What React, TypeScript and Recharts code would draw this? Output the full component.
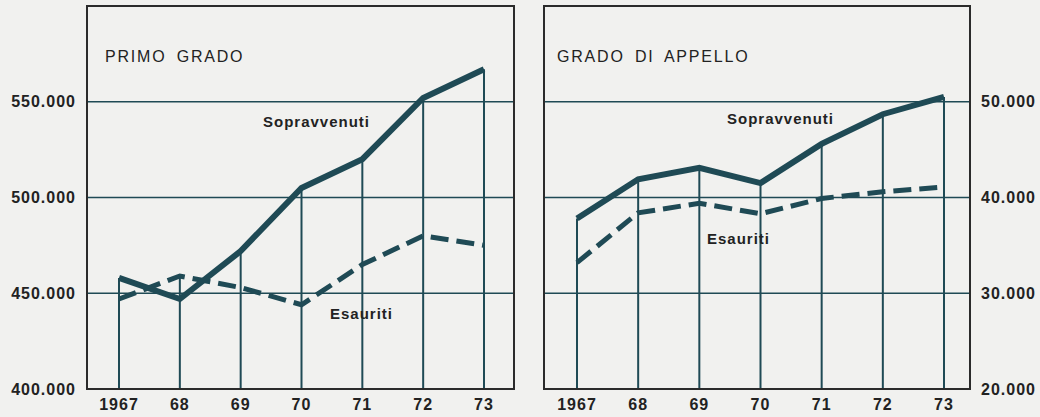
import React from 'react';
import {
  LineChart,
  Line,
  XAxis,
  YAxis,
  CartesianGrid,
  ReferenceLine,
} from 'recharts';

const YEARS = ['1967', '68', '69', '70', '71', '72', '73'];

// Primo grado
const PRIMO_SOPRAVVENUTI = [458000, 447000, 472000, 505000, 520000, 552000, 567000];
const PRIMO_ESAURITI = [447000, 459000, 453000, 444000, 465000, 480000, 475000];
const PRIMO_TICKS = [400000, 450000, 500000, 550000];
const PRIMO_DOMAIN = [400000, 600000];

// Grado di appello
const APPELLO_SOPRAVVENUTI = [37800, 41900, 43100, 41500, 45600, 48700, 50500];
const APPELLO_ESAURITI = [33200, 38400, 39400, 38300, 39900, 40600, 41100];
const APPELLO_TICKS = [20000, 30000, 40000, 50000];
const APPELLO_DOMAIN = [20000, 60000];

const INK = '#1f4a55';
const FRAME = '#2b2b2b';
const TEXT = '#222';
const BG = '#f1f1ef';
const FONT = '"Liberation Sans", Arial, sans-serif';

const fmt = (v: number) => `${Math.round(v / 1000)}.000`;

const buildRows = (sopr: number[], esau: number[]) =>
  YEARS.map((year, i) => ({
    year,
    sopravvenuti: sopr[i],
    esauriti: esau[i],
    top: Math.max(sopr[i], esau[i]),
  }));

const tickStyle = { fill: TEXT, fontSize: 16, fontWeight: 700, fontFamily: FONT, letterSpacing: 1 };

interface PanelProps {
  rows: ReturnType<typeof buildRows>;
  ticks: number[];
  domain: number[];
  side: 'left' | 'right';
}

function Panel({ rows, ticks, domain, side }: PanelProps) {
  const isLeft = side === 'left';
  return (
    <LineChart
      width={520}
      height={417}
      data={rows}
      margin={isLeft ? { top: 6, right: 6, bottom: 0, left: 0 } : { top: 6, right: 0, bottom: 0, left: 24 }}
    >
      <CartesianGrid vertical={false} stroke={INK} strokeWidth={1.5} />
      <XAxis
        dataKey="year"
        height={28}
        padding={isLeft ? { left: 32, right: 30 } : { left: 33, right: 26 }}
        tickLine={false}
        axisLine={false}
        tickMargin={4}
        tick={tickStyle}
        interval={0}
      />
      <YAxis
        orientation={isLeft ? 'left' : 'right'}
        width={isLeft ? 87 : 70}
        domain={domain}
        ticks={ticks}
        tickFormatter={fmt}
        tickLine={false}
        axisLine={false}
        tickMargin={5}
        tick={tickStyle}
      />
      {rows.map(r => (
        <ReferenceLine
          key={r.year}
          segment={[
            { x: r.year, y: domain[0] },
            { x: r.year, y: r.top },
          ]}
          stroke={INK}
          strokeWidth={2}
        />
      ))}
      <Line
        type="linear"
        dataKey="esauriti"
        stroke={INK}
        strokeWidth={5}
        strokeDasharray="18 8"
        dot={false}
        isAnimationActive={false}
      />
      <Line
        type="linear"
        dataKey="sopravvenuti"
        stroke={INK}
        strokeWidth={6}
        dot={false}
        isAnimationActive={false}
      />
    </LineChart>
  );
}

const label = (left: number, top: number, text: string, opts: React.CSSProperties = {}) => (
  <div
    style={{
      position: 'absolute',
      left,
      top,
      fontFamily: FONT,
      color: TEXT,
      fontSize: 15,
      fontWeight: 700,
      letterSpacing: 1,
      whiteSpace: 'nowrap',
      lineHeight: 1,
      ...opts,
    }}
  >
    {text}
  </div>
);

const titleStyle: React.CSSProperties = { fontSize: 16, fontWeight: 400, letterSpacing: 1.8, wordSpacing: 4 };

export default function App() {
  return (
    <div
      style={{
        position: 'absolute',
        left: 0,
        top: 0,
        width: 1040,
        height: 417,
        background: BG,
        overflow: 'hidden',
      }}
    >
      <div style={{ position: 'absolute', left: 0, top: 0 }}>
        <Panel rows={buildRows(PRIMO_SOPRAVVENUTI, PRIMO_ESAURITI)} ticks={PRIMO_TICKS} domain={PRIMO_DOMAIN} side="left" />
      </div>
      <div style={{ position: 'absolute', left: 520, top: 0 }}>
        <Panel rows={buildRows(APPELLO_SOPRAVVENUTI, APPELLO_ESAURITI)} ticks={APPELLO_TICKS} domain={APPELLO_DOMAIN} side="right" />
      </div>

      {/* frames */}
      <div style={{ position: 'absolute', left: 86, top: 5, width: 429, height: 385, border: `2px solid ${FRAME}`, boxSizing: 'border-box', pointerEvents: 'none' }} />
      <div style={{ position: 'absolute', left: 543, top: 5, width: 428, height: 385, border: `2px solid ${FRAME}`, boxSizing: 'border-box', pointerEvents: 'none' }} />

      {label(105, 49, 'PRIMO GRADO', titleStyle)}
      {label(557, 49, 'GRADO DI APPELLO', titleStyle)}
      {label(263, 114, 'Sopravvenuti')}
      {label(330, 306, 'Esauriti')}
      {label(727, 111, 'Sopravvenuti')}
      {label(707, 231, 'Esauriti')}
    </div>
  );
}
